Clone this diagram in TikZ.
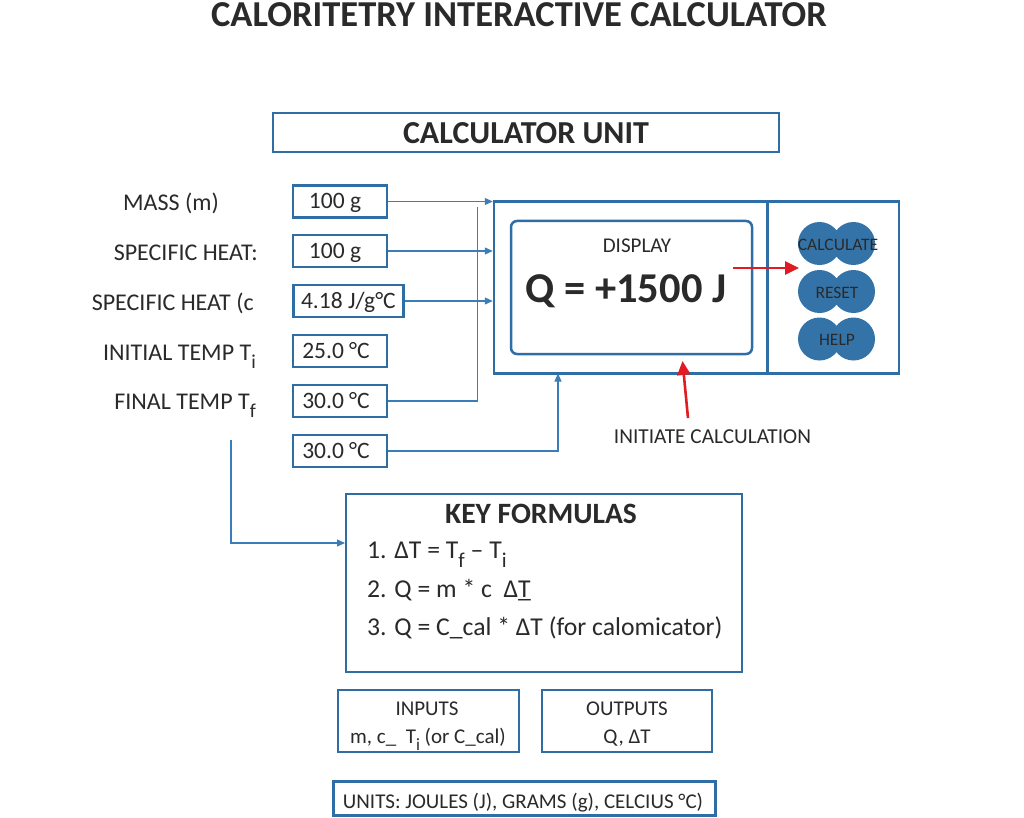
\documentclass[tikz,border=0pt]{standalone}
\usepackage{fontspec}
\setmainfont{Carlito}
\usetikzlibrary{arrows.meta,calc}
\definecolor{bordblue}{HTML}{2F6EA5}
\definecolor{lineblue}{HTML}{3B7DB6}
\definecolor{btnblue}{HTML}{3473A8}
\definecolor{txt}{HTML}{2A2A2A}
\definecolor{redarr}{HTML}{E01B24}
\newcommand\fs[1]{\fontsize{#1}{#1}\selectfont}
\newcommand\lsub[1]{\raisebox{-0.36em}{\scalebox{0.82}{#1}}}
\begin{document}
\begin{tikzpicture}[x=1pt,y=-1pt,
  every node/.style={text=txt, inner sep=0pt},
  box/.style={draw=bordblue, line width=2.5pt},
  inbox/.style={draw=bordblue, line width=2.8pt, minimum height=32pt, minimum width=94pt, text height=14.8pt, text depth=0pt, font=\fs{23.5}},
  lbl/.style={font=\fs{24}, anchor=base east},
  conn/.style={draw=lineblue, line width=1.1pt},
  tip/.style={-{Triangle[length=8pt,width=7pt]}},
  redar/.style={draw=redarr, line width=2.6pt, -{Triangle[length=14pt,width=13pt]}},
  btntxt/.style={font=\fs{17.5}, anchor=base},
  ftxt/.style={font=\fs{25.7}, anchor=base west}
]
\useasboundingbox[fill=white] (0,0) rectangle (1024,818);

% title
\node[font=\fs{36.5}\bfseries, anchor=base] (title) at (519,27) {CALORITETRY INTERACTIVE CALCULATOR};

% calculator unit header
\node[box, minimum width=506pt, minimum height=39pt] (unit) at (526,132.5) {};
\node[font=\fs{32}\bfseries, anchor=base] (unitt) at (526,144) {CALCULATOR UNIT};

% left labels
\node[lbl, anchor=base] (lmass) at (171,211) {MASS (m)};
\node[lbl] (lsh1) at (258,260) {SPECIFIC HEAT:};
\node[lbl] (lsh2) at (254,310) {SPECIFIC HEAT (c};
\node[lbl] (lti) at (256,360) {INITIAL TEMP T\lsub{i}};
\node[lbl] (ltf) at (256,409) {FINAL TEMP T\lsub{f}};

% input boxes
\node[inbox] (in1) at (340,201.5) {\kern-10pt 100 g};
\node[inbox] (in2) at (340,251) {\kern-10pt 100 g};
\node[inbox, minimum width=110pt] (in3) at (348.4,301) {4.18 J/g°C};
\node[inbox] (in4) at (340,351) {\kern-8pt 25.0 °C};
\node[inbox] (in5) at (340,401) {\kern-8pt 30.0 °C};
\node[inbox] (in6) at (340,451) {\kern-8pt 30.0 °C};

% calculator body
\node[box, minimum width=405pt, minimum height=172pt] (calc) at (696.5,287.5) {};
\draw[box] (767.7,201.5) -- (767.7,373.5);
\node[box, rounded corners=6pt, minimum width=241pt, minimum height=133pt] (disp) at (631.5,287.5) {};
\node[font=\fs{21}, anchor=base] (dispt) at (637,252) {DISPLAY};
\node[font=\fs{42.5}\bfseries, anchor=base] (q) at (626,302) {Q = +1500 J};

% buttons
\fill[btnblue] (819.5,243.5) circle[radius=21.5pt] (853.5,243.5) circle[radius=21.5pt];
\fill[btnblue] (819.5,291.5) circle[radius=21.5pt] (853.5,291.5) circle[radius=21.5pt];
\fill[btnblue] (819.5,339) circle[radius=21.5pt] (853.5,339) circle[radius=21.5pt];
\node[btntxt] (bcalc) at (838,250) {CALCULATE};
\node[btntxt] (breset) at (837,298) {RESET};
\node[btntxt] (bhelp) at (837,345) {HELP};

% connectors from inputs
\coordinate (vtop) at (477.3,207);
\coordinate (cbot) at (558,373.5);
\draw[conn, tip] (in1.east) -- (in1.east -| calc.west);
\draw[conn, tip] (in2.east) -- (in2.east -| calc.west);
\draw[conn, tip] (in3.east) -- (in3.east -| calc.west);
\draw[conn] (in5.east) -| (vtop);
\draw[conn, tip] (in6.east) -| (cbot);

% red arrows
\coordinate (ra1) at (733,268);
\coordinate (ra2) at (799,268);
\draw[redar] (ra1) -- (ra2);
\node[font=\fs{21.3}, anchor=base] (init) at (712.5,443) {INITIATE CALCULATION};
\coordinate (rb1) at (688,418);
\coordinate (rb2) at (682.5,361);
\draw[redar] (rb1) -- (rb2);

% key formulas
\node[box, minimum width=396pt, minimum height=178pt] (kf) at (544,583) {};
\node[font=\fs{29.5}\bfseries, anchor=base] (kft) at (541,523) {KEY FORMULAS};
\node[ftxt] (f1) at (367,558) {1. ΔT = T\lsub{f} – T\lsub{i}};
\node[ftxt] (f2) at (367,597) {2. Q = m * c~~Δ\rlap{\_}T};
\node[ftxt] (f3) at (367,635) {3. Q = C\_cal * ΔT (for calomicator)};
\coordinate (ftop) at (231,440);
\coordinate (kin) at (345,543);
\draw[conn, tip] (ftop) |- (kin);

% inputs / outputs
\node[box, minimum width=181pt, minimum height=62pt] (inp) at (428.3,721) {};
\node[font=\fs{21}, anchor=base] (inpt) at (427,715) {INPUTS};
\node[font=\fs{21}, anchor=base] (inpv) at (428,743) {m, c\_~ T\lsub{i} (or C\_cal)};
\node[box, minimum width=170pt, minimum height=62pt] (outp) at (627,721) {};
\node[font=\fs{21}, anchor=base] (outt) at (627,715) {OUTPUTS};
\node[font=\fs{21}, anchor=base] (outv) at (627,743) {Q, ΔT};

% units
\node[box, minimum width=382pt, minimum height=34pt] (units) at (524.7,798.5) {};
\node[font=\fs{21}, anchor=base] (unitst) at (523,808) {UNITS: JOULES (J), GRAMS (g), CELCIUS °C)};
\end{tikzpicture}
\end{document}
